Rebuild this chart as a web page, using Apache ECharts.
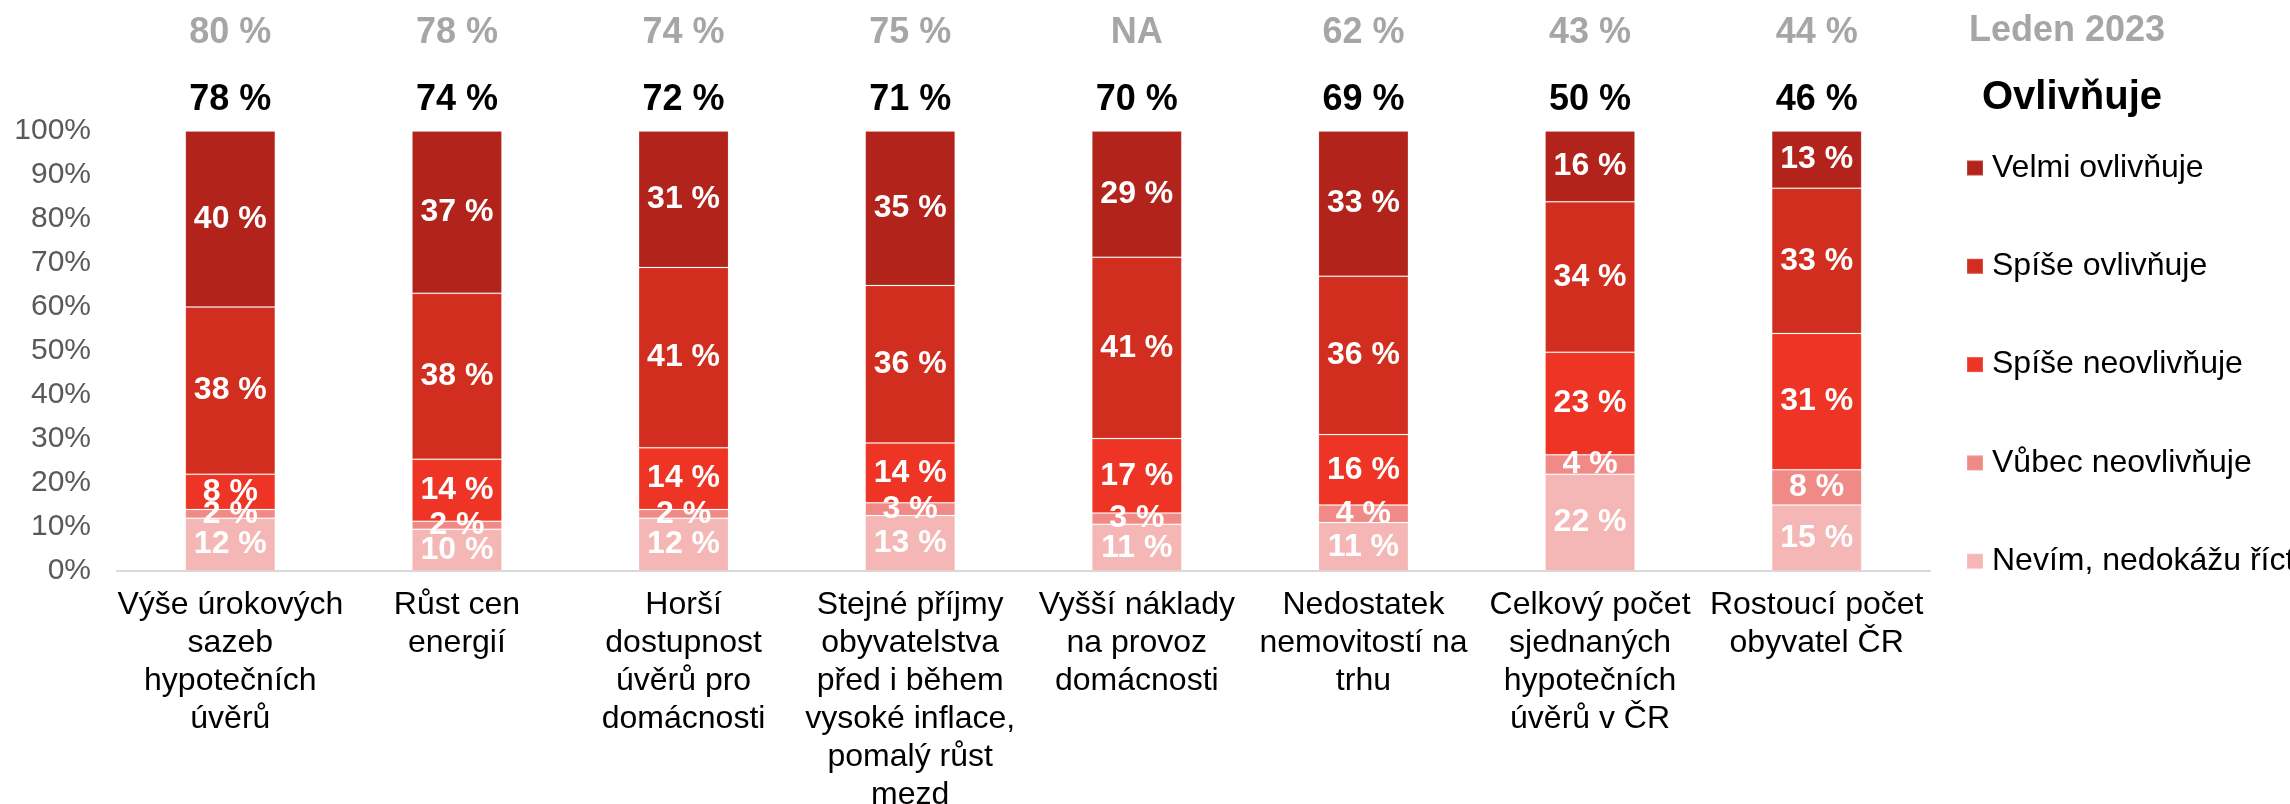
<!DOCTYPE html>
<html>
<head>
<meta charset="utf-8">
<script src="https://cdn.jsdelivr.net/npm/echarts@6/dist/echarts.min.js"></script>
<style>
  html, body { margin: 0; padding: 0; background: #fff; }
  #chart { width: 2290px; height: 804px; }
</style>
</head>
<body>
<div id="chart"></div>
<script>
// Factors influencing the housing market – share of answers per factor
const categories = [
  'Výše úrokových\nsazeb\nhypotečních\núvěrů',
  'Růst cen\nenergií',
  'Horší\ndostupnost\núvěrů pro\ndomácnosti',
  'Stejné příjmy\nobyvatelstva\npřed i během\nvysoké inflace,\npomalý růst\nmezd',
  'Vyšší náklady\nna provoz\ndomácnosti',
  'Nedostatek\nnemovitostí na\ntrhu',
  'Celkový počet\nsjednaných\nhypotečních\núvěrů v ČR',
  'Rostoucí počet\nobyvatel ČR'
];

// answer shares in %, stacked bottom to top
const nevim          = [12, 9.5, 12, 12.6, 10.6, 11, 22.0, 15];
const vubecNeovl     = [2, 1.8, 2, 2.9, 2.6, 4, 4.4, 8];
const spiseNeovl     = [8, 14.1, 14, 13.6, 16.9, 16, 23.3, 31];
const spiseOvl       = [38, 37.7, 41, 35.8, 41.2, 36, 34.2, 33];
const velmiOvl       = [40, 36.9, 31, 35.1, 28.7, 33, 16.1, 13];

// "Ovlivňuje" total (current wave) and the January 2023 wave
const ovlivnujeTotal = [78, 74, 72, 71, 70, 69, 50, 46];
const leden2023      = [80, 78, 74, 75, null, 62, 43, 44];

const yTicks = { min: 0, max: 100, interval: 10 };

const seriesNames = ['Nevím, nedokážu říct', 'Vůbec neovlivňuje', 'Spíše neovlivňuje', 'Spíše ovlivňuje', 'Velmi ovlivňuje'];
const seriesData  = [nevim, vubecNeovl, spiseNeovl, spiseOvl, velmiOvl];
const seriesColors = ['#F5B7B6', '#F08A87', '#EE3424', '#D22E1F', '#B2231B'];

const FONT = '"Liberation Sans", Arial, sans-serif';

const chart = echarts.init(document.getElementById('chart'), null, { renderer: 'canvas' });

const series = seriesNames.map((name, i) => ({
  name,
  type: 'bar',
  stack: 'total',
  xAxisIndex: 0,
  barWidth: 90,
  data: seriesData[i],
  itemStyle: { color: seriesColors[i], borderColor: 'rgba(255,255,255,0.15)', borderWidth: 1 },
  label: {
    show: true,
    position: 'inside',
    color: '#fff',
    fontFamily: FONT,
    fontWeight: 'bold',
    fontSize: 32,
    formatter: p => Math.round(p.value) + ' %'
  },
  emphasis: { disabled: true }
}));

const option = {
  animation: false,
  textStyle: { fontFamily: FONT },
  grid: { left: 117, right: 360, top: 131, bottom: 233, containLabel: false, outerBoundsMode: 'none' },
  xAxis: [
    {
      type: 'category',
      data: categories,
      position: 'bottom',
      axisLine: { show: true, lineStyle: { color: '#D9D9D9', width: 2 } },
      axisTick: { show: false },
      axisLabel: {
        interval: 0,
        color: '#000',
        fontFamily: FONT,
        fontSize: 32,
        lineHeight: 38,
        margin: 15
      }
    },
    {
      type: 'category',
      data: categories,
      position: 'top',
      axisLine: { show: false },
      axisTick: { show: false },
      axisLabel: {
        interval: 0,
        color: '#000',
        fontFamily: FONT,
        fontWeight: 'bold',
        fontSize: 36,
        margin: 13,
        formatter: (v, i) => ovlivnujeTotal[i] + ' %'
      }
    },
    {
      type: 'category',
      data: categories,
      position: 'top',
      offset: 67,
      axisLine: { show: false },
      axisTick: { show: false },
      axisLabel: {
        interval: 0,
        color: '#A6A6A6',
        fontFamily: FONT,
        fontWeight: 'bold',
        fontSize: 36,
        margin: 13,
        formatter: (v, i) => leden2023[i] === null ? 'NA' : leden2023[i] + ' %'
      }
    }
  ],
  yAxis: {
    type: 'value',
    min: yTicks.min,
    max: yTicks.max,
    interval: yTicks.interval,
    axisLine: { show: false },
    axisTick: { show: false },
    splitLine: { show: false },
    axisLabel: {
      color: '#595959',
      fontFamily: FONT,
      fontSize: 30,
      margin: 26,
      formatter: '{value}%'
    }
  },
  legend: {
    orient: 'vertical',
    left: 1961,
    top: 145,
    itemWidth: 16,
    itemHeight: 15,
    itemGap: 62.3,
    icon: 'rect',
    selectedMode: false,
    data: ['Velmi ovlivňuje', 'Spíše ovlivňuje', 'Spíše neovlivňuje', 'Vůbec neovlivňuje', 'Nevím, nedokážu říct'],
    textStyle: { color: '#000', fontFamily: FONT, fontSize: 32, lineHeight: 36, padding: [0, 0, 0, 4] }
  },
  graphic: [
    {
      type: 'text',
      x: 2067, y: 31,
      style: { text: 'Leden 2023', fill: '#A6A6A6', font: 'bold 36px ' + FONT, textAlign: 'center', textVerticalAlign: 'middle' }
    },
    {
      type: 'text',
      x: 2072, y: 98,
      style: { text: 'Ovlivňuje', fill: '#000', font: 'bold 40px ' + FONT, textAlign: 'center', textVerticalAlign: 'middle' }
    }
  ],
  series
};

chart.setOption(option);
</script>
</body>
</html>
